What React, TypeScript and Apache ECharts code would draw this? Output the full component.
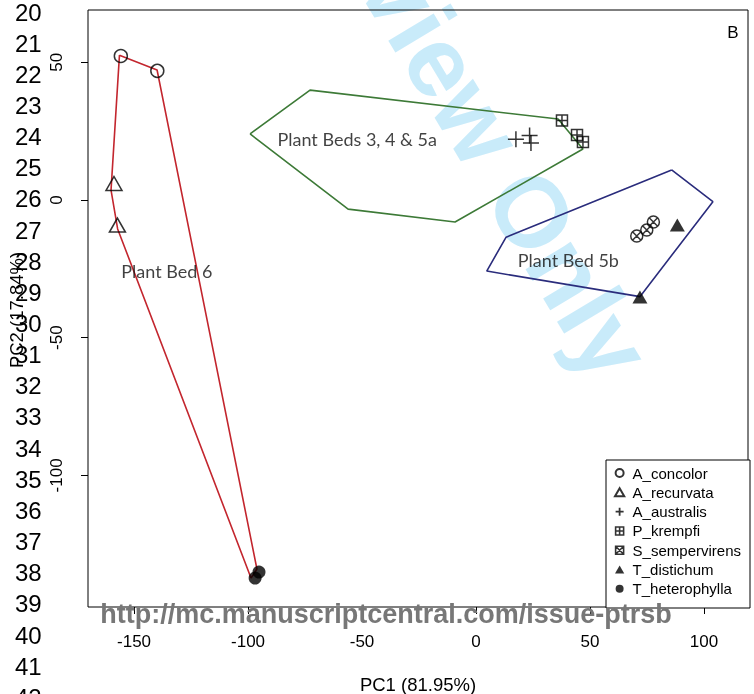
import React, { useEffect, useRef } from 'react';
import * as echarts from 'echarts';

// ---- data (PC1, PC2) ----
const speciesNames = ['A_concolor', 'A_recurvata', 'A_australis', 'P_krempfi', 'S_sempervirens', 'T_distichum', 'T_heterophylla'];
const aConcolor = [[-155.8, 52.3], [-139.8, 46.9]];
const aRecurvata = [[-158.8, 6.0], [-157.3, -9.1]];
const aAustralis = [[17.5, 22.1], [23.5, 23.4], [24.1, 20.7]];
const pKrempfi = [[37.7, 28.9], [44.3, 23.6], [46.9, 21.1]];
const sSempervirens = [[70.5, -13.1], [74.9, -10.9], [77.8, -8.0]];
const tDistichum = [[88.3, -9.1], [71.9, -35.2]];
const tHeterophylla = [[-96.9, -137.3], [-95.2, -135.1]];

// hull vertices
const hullBed6 = [[-156.4, 52.6], [-139.9, 47.2], [-96.1, -134.0], [-98.7, -137.3], [-157.2, -10.5], [-160.1, 3.6]];
const hullBeds345a = [[-99.1, 24.0], [-72.8, 39.9], [36.0, 29.4], [46.9, 18.5], [-9.2, -8.0], [-56.1, -3.3]];
const hullBed5b = [[85.8, 10.9], [103.9, -0.6], [71.9, -35.1], [4.7, -25.8], [13.2, -13.5]];

const bedLabelNames = ['Plant Beds 3, 4 & 5a', 'Plant Bed 6', 'Plant Bed 5b'];
const bedLabelPos = [[-87.3, 22.1], [-155.8, -25.8], [18.1, -21.8]];

const xTicks = [-150, -100, -50, 0, 50, 100];
const yTicks = [-100, -50, 0, 50];
const lineNumbers = [20, 21, 22, 23, 24, 25, 26, 27, 28, 29, 30, 31, 32, 33, 34, 35, 36, 37, 38, 39, 40, 41, 42];

const X_MIN = -170.2, X_MAX = 119.3, Y_MIN = -147.8, Y_MAX = 69.0;

const P_PLUS = 'path://M5,0L5,10M0,5L10,5';
const P_SQPLUS = 'path://M0,0L10,0L10,10L0,10ZM5,0L5,10M0,5L10,5';
const P_CIRCX = 'path://M10,5A5,5,0,1,1,0,5A5,5,0,1,1,10,5ZM1.46,1.46L8.54,8.54M8.54,1.46L1.46,8.54';
const P_SQX = 'path://M0,0L10,0L10,10L0,10ZM0,0L10,10M10,0L0,10';
const P_CIRC = 'path://M10,5A5,5,0,1,1,0,5A5,5,0,1,1,10,5Z';
const P_TRI = 'path://M5,0L10,8.66L0,8.66Z';

const FONT = '"Liberation Sans", Arial, Helvetica, sans-serif';

export default function App() {
  const ref = useRef<HTMLDivElement>(null);
  useEffect(() => {
    if (!ref.current) return;
    const chart = echarts.init(ref.current, null, { renderer: 'svg' });

    const open = { color: 'rgba(0,0,0,0)', borderColor: '#000', borderWidth: 1.5 };
    const hull = (name: string, pts: number[][], color: string) => ({
      type: 'line', name, data: [...pts, pts[0]], symbol: 'none', silent: true,
      lineStyle: { color, width: 1.6 }, z: 2,
    });

    const wmAngle = 59 * Math.PI / 180;
    const wmFs = 100;
    const wmOffset = 600; // distance from start of text to centre of "O"
    const wmX = 532 - wmOffset * Math.cos(wmAngle);
    const wmY = 212 - wmOffset * Math.sin(wmAngle);

    const graphics: any[] = [
      {
        type: 'text', x: wmX, y: wmY, rotation: -wmAngle, z: -10, silent: true,
        style: { text: 'For Review Only', fontSize: wmFs, fontWeight: 'bold', fontFamily: FONT, fill: '#c9ebfa', textAlign: 'left', textVerticalAlign: 'middle' },
      },
      ...lineNumbers.map((n, i) => ({
        type: 'text', x: 15, y: 12 + i * 31.15, z: 100,
        style: { text: String(n), fontSize: 24, fontFamily: FONT, fill: '#000', textAlign: 'left', textVerticalAlign: 'middle' },
      })),
      {
        type: 'text', x: 733, y: 32, z: 100,
        style: { text: 'B', fontSize: 17, fontFamily: FONT, fill: '#000', textAlign: 'center', textVerticalAlign: 'middle' },
      },
      {
        type: 'text', x: 418, y: 684, z: 100,
        style: { text: 'PC1 (81.95%)', fontSize: 18.5, fontFamily: FONT, fill: '#000', textAlign: 'center', textVerticalAlign: 'middle' },
      },
      {
        type: 'text', x: 16, y: 310, rotation: Math.PI / 2, z: 100,
        style: { text: 'PC2 (17.84%)', fontSize: 18.5, fontFamily: FONT, fill: '#000', textAlign: 'center', textVerticalAlign: 'middle' },
      },
      {
        type: 'rect', z: 50, shape: { x: 606, y: 460, width: 144, height: 148 },
        style: { fill: '#fff', stroke: '#000', lineWidth: 1 },
      },
      {
        type: 'text', x: 386, y: 614, z: 120,
        style: { text: 'http://mc.manuscriptcentral.com/issue-ptrsb', fontSize: 27, fontWeight: 'bold', fontFamily: FONT, fill: '#777777', textAlign: 'center', textVerticalAlign: 'middle' },
      },
    ];

    const option: any = {
      animation: false,
      grid: { left: 88, top: 10, width: 660, height: 597, show: true, borderColor: '#000', borderWidth: 1, backgroundColor: 'transparent' },
      xAxis: {
        type: 'value', min: X_MIN, max: X_MAX,
        axisLine: { show: false, onZero: false }, splitLine: { show: false },
        axisTick: { show: true, customValues: xTicks, length: 7, lineStyle: { color: '#000', width: 1 } },
        axisLabel: { customValues: xTicks, margin: 26, fontSize: 17, fontFamily: FONT, color: '#000' },
      },
      yAxis: {
        type: 'value', min: Y_MIN, max: Y_MAX,
        axisLine: { show: false, onZero: false }, splitLine: { show: false },
        axisTick: { show: true, customValues: yTicks, length: 7, lineStyle: { color: '#000', width: 1 } },
        axisLabel: { customValues: yTicks, rotate: 90, margin: 23, fontSize: 17, fontFamily: FONT, color: '#000' },
      },
      legend: {
        orient: 'vertical', left: 614, top: 463.4, padding: 0, itemGap: 0,
        itemWidth: 16, itemHeight: 8, selectedMode: false, z: 60, symbolKeepAspect: true,
        textStyle: { fontSize: 15, fontFamily: FONT, color: '#000', lineHeight: 19.3 },
        data: [
          { name: 'A_concolor', icon: P_CIRC, itemStyle: { borderWidth: 2 } },
          { name: 'A_recurvata', icon: P_TRI, itemStyle: { borderWidth: 2 } },
          { name: 'A_australis', icon: P_PLUS, itemStyle: { borderWidth: 1.8 } },
          { name: 'P_krempfi', icon: P_SQPLUS, itemStyle: { borderWidth: 1.6 } },
          { name: 'S_sempervirens', icon: P_SQX, itemStyle: { borderWidth: 1.6 } },
          { name: 'T_distichum', icon: P_TRI },
          { name: 'T_heterophylla', icon: P_CIRC },
        ],
      },
      graphic: graphics,
      series: [
        hull('Bed6', hullBed6, '#c3262e'),
        hull('Beds345a', hullBeds345a, '#3d7a37'),
        hull('Bed5b', hullBed5b, '#2a2c7c'),
        {
          type: 'scatter', name: 'labels', silent: true, symbol: 'circle', symbolSize: 1,
          itemStyle: { color: 'rgba(0,0,0,0)' },
          data: bedLabelNames.map((n, i) => ({ name: n, value: bedLabelPos[i] })),
          label: { show: true, position: 'right', distance: 0, formatter: '{b}', fontSize: 18, fontFamily: 'Lato, "Noto Sans", sans-serif', color: '#111' },
          z: 3,
        },
        { type: 'scatter', name: speciesNames[0], data: aConcolor, symbol: 'circle', symbolSize: 13, itemStyle: open, z: 4 },
        { type: 'scatter', name: speciesNames[1], data: aRecurvata, symbol: 'triangle', symbolSize: [16, 14], itemStyle: open, z: 4 },
        { type: 'scatter', name: speciesNames[2], data: aAustralis, symbol: P_PLUS, symbolSize: 16, itemStyle: open, z: 4 },
        { type: 'scatter', name: speciesNames[3], data: pKrempfi, symbol: P_SQPLUS, symbolSize: 11, itemStyle: open, z: 4 },
        { type: 'scatter', name: speciesNames[4], data: sSempervirens, symbol: P_CIRCX, symbolSize: 12, itemStyle: open, z: 4 },
        { type: 'scatter', name: speciesNames[5], data: tDistichum, symbol: 'triangle', symbolSize: [15, 13], itemStyle: { color: '#000' }, z: 4 },
        { type: 'scatter', name: speciesNames[6], data: tHeterophylla, symbol: 'circle', symbolSize: 13, itemStyle: { color: '#000' }, z: 4 },
      ],
    };
    chart.setOption(option);
    return () => chart.dispose();
  }, []);
  return <div ref={ref} style={{ position: 'fixed', left: 0, top: 0, width: 754, height: 694 }} />;
}
